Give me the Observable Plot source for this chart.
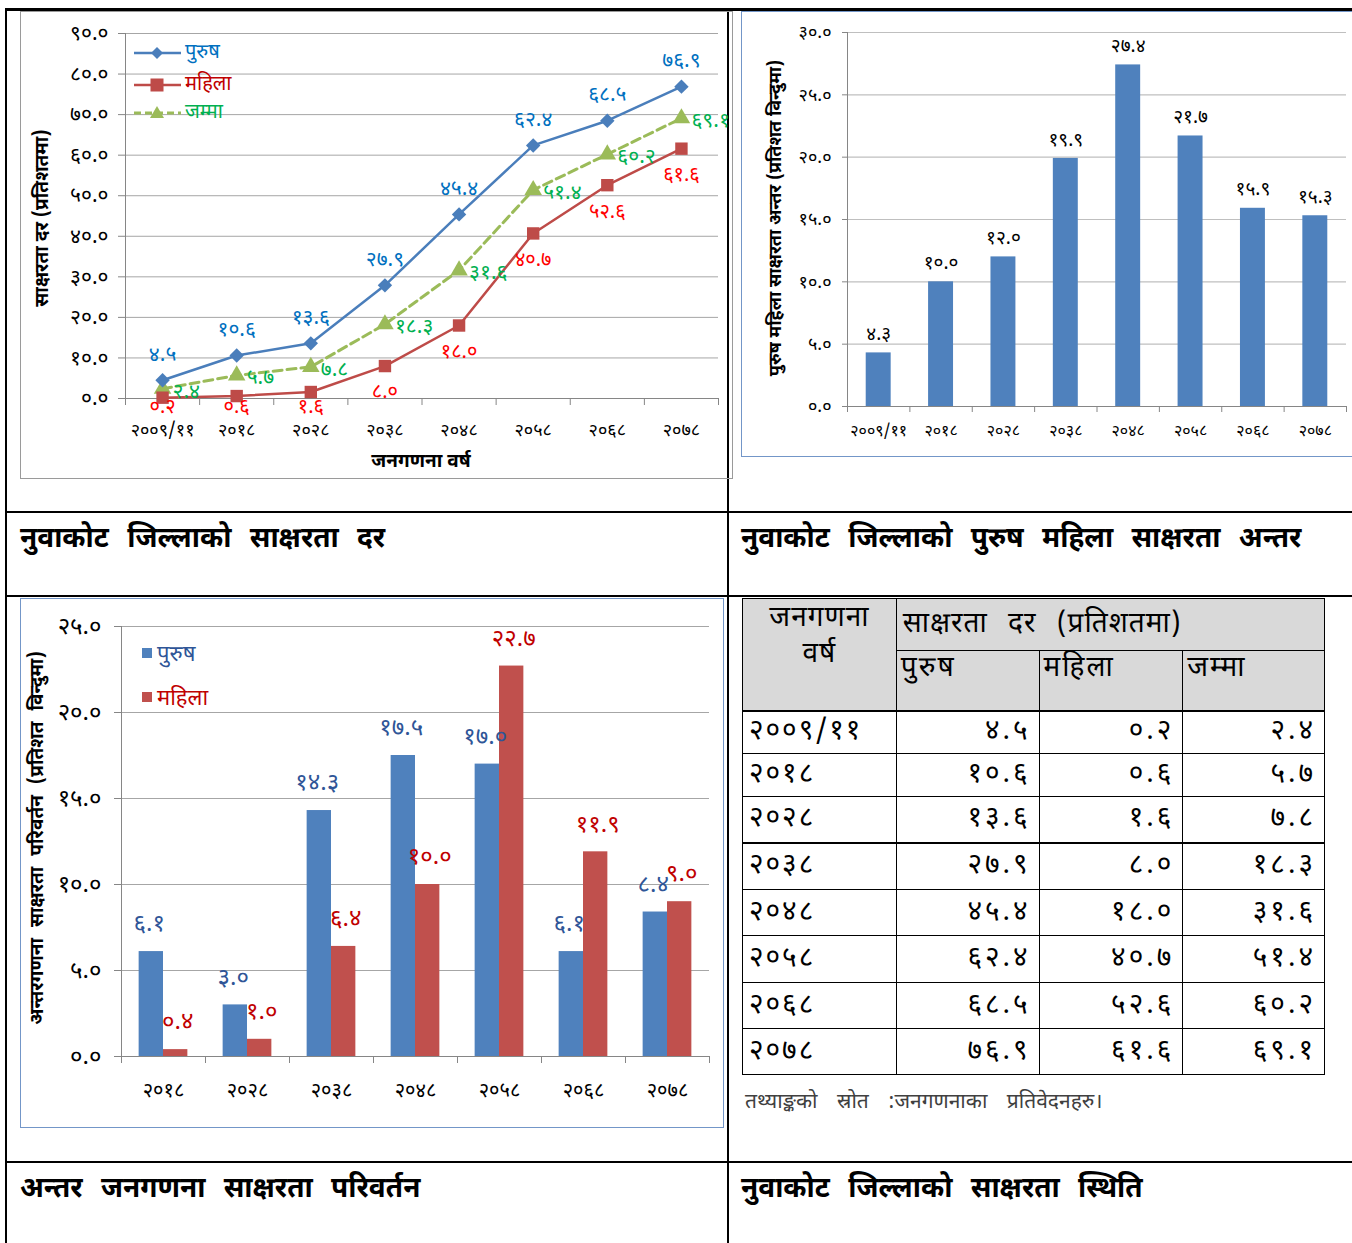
<!DOCTYPE html>
<html><head><meta charset="utf-8">
<script src="https://cdn.jsdelivr.net/npm/d3@7"></script>
<script src="https://cdn.jsdelivr.net/npm/@observablehq/plot@0.6"></script>
<style>
body{margin:0;background:#fff;}
#page{position:relative;width:1352px;height:1243px;overflow:hidden;font-family:"Noto Sans Devanagari","Noto Sans",sans-serif;}
#page div, #page svg, #page table{position:absolute;}
.vt{transform:translate(-50%,-50%) rotate(-90deg);white-space:nowrap;font-weight:bold;}
.cap{font-weight:bold;font-size:28px;white-space:nowrap;word-spacing:11px;}
table{border-collapse:collapse;}
td{border:1px solid #000;padding:0;font-size:28px;line-height:1;vertical-align:middle;}
td.num{text-align:right;padding-right:8px;letter-spacing:3px;}
td.yr{padding-left:6px;letter-spacing:2px;}
</style></head><body><div id="page"></div>
<script>
// ---------- data ----------
const years = ["२००९/११","२०१८","२०२८","२०३८","२०४८","२०५८","२०६८","२०७८"];
const male = [4.5,10.6,13.6,27.9,45.4,62.4,68.5,76.9];
const female = [0.2,0.6,1.6,8.0,18.0,40.7,52.6,61.6];
const total = [2.4,5.7,7.8,18.3,31.6,51.4,60.2,69.1];
const gap = [4.3,10.0,12.0,19.9,27.4,21.7,15.9,15.3];
const changeYears = ["२०१८","२०२८","२०३८","२०४८","२०५८","२०६८","२०७८"];
const maleChange = [6.1,3.0,14.3,17.5,17.0,6.1,8.4];
const femaleChange = [0.4,1.0,6.4,10.0,22.7,11.9,9.0];
const ticks1 = [0,10,20,30,40,50,60,70,80,90];
const ticks2 = [0,5,10,15,20,25,30];
const ticks3 = [0,5,10,15,20,25];
const seriesNames = ["पुरुष","महिला","जम्मा"];
const captions = ["नुवाकोट जिल्लाको साक्षरता दर","नुवाकोट जिल्लाको पुरुष महिला साक्षरता अन्तर","अन्तर जनगणना साक्षरता परिवर्तन","नुवाकोट जिल्लाको साक्षरता स्थिति"];
const yTitles = ["साक्षरता दर (प्रतिशतमा)","पुरुष महिला साक्षरता अन्तर (प्रतिशत विन्दुमा)","अन्तरगणना साक्षरता परिवर्तन (प्रतिशत विन्दुमा)"];
const xTitle1 = "जनगणना वर्ष";
const tableHead = ["जनगणना वर्ष","साक्षरता दर (प्रतिशतमा)"];
const sourceNote = "तथ्याङ्कको स्रोत :जनगणनाका प्रतिवेदनहरु।";

// ---------- helpers ----------
const FONT = '"Noto Sans Devanagari","Noto Sans",sans-serif';
const deva = s => String(s).replace(/[0-9]/g, d => "०१२३४५६७८९"[+d]);
const fmt = v => deva((+v).toFixed(1));
const page = document.getElementById("page");
function place(el, l, t){ el.style.left = l+"px"; el.style.top = t+"px"; page.appendChild(el); return el; }
function div(l, t, css, text){ const d = document.createElement("div"); d.style.cssText = css; if (text != null) d.textContent = text; return place(d, l, t); }
const I = (d,i) => i;
const AX = "#868686";

// ---------- outer grid lines ----------
div(5, 8, "width:1347px;height:3px;background:#000");
div(5, 8, "width:2px;height:1235px;background:#000");
div(727, 8, "width:2px;height:1235px;background:#000");
div(5, 511, "width:1347px;height:2px;background:#000");
div(5, 595, "width:1347px;height:2px;background:#000");
div(5, 1161, "width:1347px;height:2px;background:#000");

// ---------- chart boxes ----------
div(20, 11, "width:711px;height:466px;border:1.5px solid #9a9a9a");
div(741, 11, "width:620px;height:444px;border:1.5px solid #7396c8");
div(20, 598, "width:702px;height:528px;border:1.5px solid #7396c8");

// ---------- chart 1 ----------
const c1 = Plot.plot({
  width: 713, height: 468,
  marginLeft: 105, marginRight: 15, marginTop: 22, marginBottom: 81,
  style: {fontFamily: FONT, background: "transparent", color: "#000", overflow: "visible"},
  x: {domain: [-0.5, years.length - 0.5], axis: null},
  y: {domain: [0, 90], axis: null},
  marks: [
    Plot.ruleY(ticks1.slice(1), {stroke: "#A6A6A6"}),
    Plot.ruleX([-0.5], {stroke: AX}),
    Plot.ruleY([0], {stroke: AX}),
    Plot.axisY({ticks: ticks1, tickSize: 7, tickPadding: 10, tickFormat: fmt, fontSize: 21, stroke: AX, fill: "#000"}),
    Plot.axisX({ticks: d3.range(-0.5, years.length, 1), tickSize: 7, tickFormat: () => "", stroke: AX}),
    Plot.axisX({ticks: years.map(I), tickSize: 0, tickPadding: 25, tickFormat: i => years[i], fontSize: 18, fill: "#000"}),
    Plot.line(total, {x: I, y: d => d, stroke: "#9BBB59", strokeWidth: 3, strokeDasharray: "9,5"}),
    Plot.line(female, {x: I, y: d => d, stroke: "#BE4B48", strokeWidth: 2.5}),
    Plot.line(male, {x: I, y: d => d, stroke: "#4A7EBB", strokeWidth: 2.5}),
    Plot.dot(total, {x: I, y: d => d, symbol: "triangle", r: 6.5, fill: "#9BBB59"}),
    Plot.dot(female, {x: I, y: d => d, symbol: "square", r: 7, fill: "#BE4B48"}),
    Plot.dot(male, {x: I, y: d => d, symbol: "diamond2", r: 6.5, fill: "#4A7EBB"}),
    Plot.text(male, {x: I, y: d => d, text: fmt, dy: -26, fontSize: 21, fill: "#0070C0"}),
    Plot.text(female, {x: I, y: d => Math.max(d, 4.4), text: fmt, dy: 26, fontSize: 20, fill: "#FF0000"}),
    Plot.text(total, {x: I, y: d => d, text: fmt, dx: 10, dy: 2, textAnchor: "start", fontSize: 21, fill: "#00B050"})
  ]
});
place(c1, 20, 11);
div(43, 218, "font-size:19px;color:#000", yTitles[0]).className = "vt";
div(421, 462, "transform:translate(-50%,-50%);font-weight:bold;font-size:19px;white-space:nowrap", xTitle1);

// legend chart 1
const legend1 = [
  {name: seriesNames[0], stroke: "#4A7EBB", text: "#0070C0", sym: '<path d="M24,-6L30,0L24,6L18,0Z" fill="#4A7EBB"/>', dash: ""},
  {name: seriesNames[1], stroke: "#BE4B48", text: "#C00000", sym: '<rect x="17.5" y="-6.5" width="13" height="13" fill="#BE4B48"/>', dash: ""},
  {name: seriesNames[2], stroke: "#9BBB59", text: "#00B050", sym: '<path d="M24,-7L31,5L17,5Z" fill="#9BBB59"/>', dash: "7,4"}
];
legend1.forEach((g, k) => {
  const ys = [53, 85, 113][k];
  const s = document.createElementNS("http://www.w3.org/2000/svg", "svg");
  s.setAttribute("width", 50); s.setAttribute("height", 20);
  s.innerHTML = `<g transform="translate(0,10)"><line x1="1" x2="48" y1="0" y2="0" stroke="${g.stroke}" stroke-width="${k==2?3:2.5}" stroke-dasharray="${g.dash}"/>${g.sym}</g>`;
  place(s, 133, ys - 10);
  div(185, ys - 14, `font-size:20px;color:${g.text};white-space:nowrap;line-height:28px`, g.name);
});

// ---------- chart 2 ----------
const c2 = Plot.plot({
  width: 611, height: 446,
  marginLeft: 106, marginRight: 6, marginTop: 21, marginBottom: 51,
  style: {fontFamily: FONT, background: "transparent", color: "#000", overflow: "visible"},
  x: {domain: [-0.5, gap.length - 0.5], axis: null},
  y: {domain: [0, 30], axis: null},
  marks: [
    Plot.ruleY(ticks2.slice(1), {stroke: "#BFBFBF", strokeWidth: 1.2}),
    Plot.rectY(gap, {x1: (d,i) => i - 0.2, x2: (d,i) => i + 0.2, y: d => d, fill: "#4F81BD"}),
    Plot.ruleX([-0.5], {stroke: AX}),
    Plot.ruleY([0], {stroke: AX}),
    Plot.axisY({ticks: ticks2, tickSize: 5, tickPadding: 11, tickFormat: fmt, fontSize: 18, stroke: AX, fill: "#000"}),
    Plot.axisX({ticks: d3.range(-0.5, gap.length, 1), tickSize: 6, tickFormat: () => "", stroke: AX}),
    Plot.axisX({ticks: years.map(I), tickSize: 0, tickPadding: 18, tickFormat: i => years[i], fontSize: 16, fill: "#000"}),
    Plot.text(gap, {x: I, y: d => d, text: fmt, dy: -19, fontSize: 19, fill: "#000"})
  ]
});
place(c2, 741, 11);
div(776, 218, "font-size:18px;color:#000", yTitles[1]).className = "vt";

// ---------- chart 3 ----------
const c3 = Plot.plot({
  width: 704, height: 530,
  marginLeft: 101, marginRight: 15, marginTop: 28, marginBottom: 72,
  style: {fontFamily: FONT, background: "transparent", color: "#000", overflow: "visible"},
  x: {domain: [-0.5, changeYears.length - 0.5], axis: null},
  y: {domain: [0, 25], axis: null},
  marks: [
    Plot.ruleY(ticks3.slice(1), {stroke: "#A6A6A6", strokeWidth: 1.2}),
    Plot.rectY(maleChange, {x1: (d,i) => i - 0.29, x2: I, y: d => d, fill: "#4F81BD"}),
    Plot.rectY(femaleChange, {x1: I, x2: (d,i) => i + 0.29, y: d => d, fill: "#C0504D"}),
    Plot.ruleX([-0.5], {stroke: AX}),
    Plot.ruleY([0], {stroke: AX}),
    Plot.axisY({ticks: ticks3, tickSize: 7, tickPadding: 13, tickFormat: fmt, fontSize: 24, stroke: AX, fill: "#000"}),
    Plot.axisX({ticks: d3.range(-0.5, changeYears.length, 1), tickSize: 7, tickFormat: () => "", stroke: AX}),
    Plot.axisX({ticks: changeYears.map(I), tickSize: 0, tickPadding: 26, tickFormat: i => changeYears[i], fontSize: 20, fill: "#000"}),
    Plot.text(maleChange, {x: (d,i) => i - 0.17, y: d => d, text: fmt, dy: -28, fontSize: 24, fill: "#2F5597"}),
    Plot.text(femaleChange, {x: (d,i) => i + 0.17, y: d => d, text: fmt, dy: -28, fontSize: 24, fill: "#C00000"})
  ]
});
place(c3, 20, 598);
div(38, 838, "font-size:19px;color:#000;word-spacing:6px", yTitles[2]).className = "vt";
div(142, 648, "width:10px;height:10px;background:#4F81BD");
div(157, 641, "font-size:22px;color:#2F5597;line-height:30px;white-space:nowrap", seriesNames[0]);
div(142, 692, "width:10px;height:10px;background:#C0504D");
div(157, 685, "font-size:22px;color:#C00000;line-height:30px;white-space:nowrap", seriesNames[1]);

// ---------- captions ----------
div(20, 540, "transform:translateY(-50%)", captions[0]).className = "cap";
div(741, 540, "transform:translateY(-50%)", captions[1]).className = "cap";
div(20, 1190, "transform:translateY(-50%)", captions[2]).className = "cap";
div(741, 1190, "transform:translateY(-50%)", captions[3]).className = "cap";

// ---------- table ----------
const tbl = document.createElement("table");
tbl.style.width = "583px";
const colW = [154, 143, 144, 142];
const rowH = [52, 60, 43, 43, 46, 47, 46, 47, 46, 46];
let html = `<colgroup>${colW.map(w => `<col style="width:${w}px">`).join("")}</colgroup>`;
html += `<tr style="height:${rowH[0]}px;background:#D9D9D9"><td rowspan="2" style="text-align:center;vertical-align:top;padding-top:2px;border-bottom:2px solid #000;letter-spacing:1px;line-height:36px">${tableHead[0].split(" ").join("<br>")}</td><td colspan="3" style="padding-left:6px;letter-spacing:1px;word-spacing:12px">${tableHead[1]}</td></tr>`;
html += `<tr style="height:${rowH[1]}px;background:#D9D9D9">${seriesNames.map(n => `<td style="padding-left:4px;vertical-align:top;padding-top:4px;border-bottom:2px solid #000;letter-spacing:2px">${n}</td>`).join("")}</tr>`;
years.forEach((y, i) => {
  const thick = i === 2 ? "border-bottom:2.5px solid #000;" : "";
  html += `<tr style="height:${rowH[i+2]}px"><td class="yr" style="${thick}">${y}</td>` +
    [male[i], female[i], total[i]].map(v => `<td class="num" style="${thick}">${fmt(v)}</td>`).join("") + `</tr>`;
});
tbl.innerHTML = html;
tbl.style.border = "1.5px solid #000";
place(tbl, 742, 598);
div(745, 1088, "font-size:21px;color:#404040;white-space:nowrap;word-spacing:14px;line-height:30px", sourceNote);
</script>
</body></html>
